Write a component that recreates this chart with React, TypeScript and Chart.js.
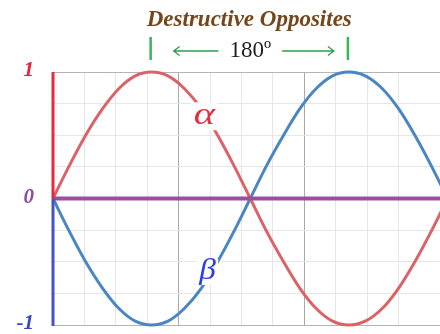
import React, { useEffect, useRef } from "react";
import { Chart, registerables } from "chart.js";

Chart.register(...registerables);

// Phase angle in radians for each sample
const ANGLE = [0, 0.26, 0.52, 0.79, 1.05, 1.31, 1.57, 1.83, 2.09, 2.36, 2.62, 2.88, 3.14, 3.4, 3.67, 3.93, 4.19, 4.45, 4.71, 4.97, 5.24, 5.5, 5.76, 6.02, 6.28];
// Wave α
const ALPHA = [0, 0.26, 0.5, 0.71, 0.87, 0.97, 1, 0.97, 0.87, 0.71, 0.5, 0.26, 0, -0.26, -0.5, -0.71, -0.87, -0.97, -1, -0.97, -0.87, -0.71, -0.5, -0.26, 0];
// Wave β, the opposite of α
const BETA = [0, -0.26, -0.5, -0.71, -0.87, -0.97, -1, -0.97, -0.87, -0.71, -0.5, -0.26, 0, 0.26, 0.5, 0.71, 0.87, 0.97, 1, 0.97, 0.87, 0.71, 0.5, 0.26, 0];

const Y_TICKS = [1, 0, -1];
const Y_TICK_LABELS = ["1", "0", "-1"];
const Y_TICK_COLORS = ["#e3243c", "#8a4f9c", "#3a48c4"];

const TITLE = "Destructive Opposites";
const PHASE_LABEL = "180º";
// Peaks of α and β that the bracket spans
const PHASE_FROM = 1.57;
const PHASE_TO = 4.71;

const ALPHA_LABEL = { x: 2.41, y: 0.65, text: "α" };
const BETA_LABEL = { x: 2.46, y: -0.58, text: "β" };

const SERIF = "'Liberation Serif', 'DejaVu Serif', serif";

const overlay = {
  id: "overlay",
  afterDatasetsDraw(chart: any) {
    const { ctx, chartArea, scales } = chart;
    const xs = scales.x;
    const ys = scales.y;
    const x0 = xs.getPixelForValue(0);
    const yTop = ys.getPixelForValue(1);
    const yZero = ys.getPixelForValue(0);
    const yBot = ys.getPixelForValue(-1);

    ctx.save();
    // zero line
    ctx.strokeStyle = "#9a4ea3";
    ctx.lineWidth = 4;
    ctx.beginPath();
    ctx.moveTo(x0, yZero);
    ctx.lineTo(chartArea.right + 2, yZero);
    ctx.stroke();

    // vertical axis: red above zero, blue below
    ctx.lineWidth = 3;
    ctx.strokeStyle = "#e8283c";
    ctx.beginPath();
    ctx.moveTo(x0, yTop);
    ctx.lineTo(x0, yZero);
    ctx.stroke();
    ctx.strokeStyle = "#4451c8";
    ctx.beginPath();
    ctx.moveTo(x0, yZero);
    ctx.lineTo(x0, yBot + 1);
    ctx.stroke();

    // wave names sitting on their curves
    const waveLabel = (l: any, color: string, size: number, sx: number) => {
      const px = xs.getPixelForValue(l.x);
      const py = ys.getPixelForValue(l.y);
      ctx.save();
      ctx.translate(px, py);
      ctx.scale(sx, 1);
      ctx.font = `italic ${size}px ${SERIF}`;
      ctx.textAlign = "center";
      ctx.textBaseline = "middle";
      const w = ctx.measureText(l.text).width;
      ctx.fillStyle = "#ffffff";
      ctx.fillRect(-w / 2 - 2, -size * 0.45, w + 4, size * 0.9);
      ctx.fillStyle = color;
      ctx.fillText(l.text, 0, 0);
      ctx.restore();
    };
    waveLabel(ALPHA_LABEL, "#e2303e", 31, 1.3);
    waveLabel(BETA_LABEL, "#2b3fe0", 29, 1.15);

    // y tick labels
    ctx.font = `bold italic 21px ${SERIF}`;
    ctx.textAlign = "right";
    ctx.textBaseline = "middle";
    Y_TICKS.forEach((v, i) => {
      ctx.fillStyle = Y_TICK_COLORS[i];
      ctx.fillText(Y_TICK_LABELS[i], x0 - 19, ys.getPixelForValue(v) - 1);
    });

    // title and phase bracket
    const bx1 = xs.getPixelForValue(PHASE_FROM) - 1;
    const bx2 = xs.getPixelForValue(PHASE_TO) - 1;
    const cx = (bx1 + bx2) / 2;
    ctx.font = `bold italic 23px ${SERIF}`;
    ctx.textAlign = "center";
    ctx.textBaseline = "alphabetic";
    ctx.fillStyle = "#74461a";
    ctx.fillText(TITLE, cx, 26);

    ctx.strokeStyle = "#3cb45a";
    ctx.lineWidth = 2.5;
    [bx1, bx2].forEach((bx) => {
      ctx.beginPath();
      ctx.moveTo(bx, 37);
      ctx.lineTo(bx, 60);
      ctx.stroke();
    });

    ctx.font = `23px ${SERIF}`;
    ctx.fillStyle = "#1e1e1e";
    ctx.textBaseline = "alphabetic";
    ctx.fillText(PHASE_LABEL, cx + 1, 57);
    const tw = ctx.measureText(PHASE_LABEL).width;
    const ay = 51;
    ctx.strokeStyle = "#2f9e48";
    ctx.lineWidth = 1.3;
    const lStart = bx1 + 23;
    const lEnd = cx - tw / 2 - 10;
    const rStart = cx + tw / 2 + 12;
    const rEnd = bx2 - 14;
    ctx.beginPath();
    ctx.moveTo(lStart, ay);
    ctx.lineTo(lEnd, ay);
    ctx.moveTo(lStart + 6, ay - 4.5);
    ctx.lineTo(lStart, ay);
    ctx.lineTo(lStart + 6, ay + 4.5);
    ctx.moveTo(rStart, ay);
    ctx.lineTo(rEnd, ay);
    ctx.moveTo(rEnd - 6, ay - 4.5);
    ctx.lineTo(rEnd, ay);
    ctx.lineTo(rEnd - 6, ay + 4.5);
    ctx.stroke();
    ctx.restore();
  },
};

export default function App() {
  const ref = useRef<HTMLCanvasElement>(null);

  useEffect(() => {
    if (!ref.current) return;
    const toPoints = (ys: number[]) => ANGLE.map((x, i) => ({ x, y: ys[i] }));
    const chart = new Chart(ref.current, {
      type: "line",
      data: {
        datasets: [
          {
            data: toPoints(ALPHA),
            borderColor: "#db6266",
            borderWidth: 3,
            pointRadius: 0,
            cubicInterpolationMode: "monotone",
            clip: false as any,
          },
          {
            data: toPoints(BETA),
            borderColor: "#4a86c2",
            borderWidth: 3,
            pointRadius: 0,
            cubicInterpolationMode: "monotone",
            clip: false as any,
          },
        ],
      },
      options: {
        responsive: false,
        animation: false,
        devicePixelRatio: 1,
        layout: { padding: { left: 53, top: 72, right: 0, bottom: 9 } },
        plugins: { legend: { display: false }, tooltip: { enabled: false } },
        scales: {
          x: {
            type: "linear",
            min: 0,
            max: 6.16,
            afterFit: (s: any) => {
              s.height = 0;
            },
            ticks: { display: false, stepSize: 0.5 },
            border: { display: false },
            grid: {
              drawTicks: false,
              lineWidth: 1,
              color: (c: any) =>
                Math.abs(c.tick.value % 2) < 1e-6 ? "#a8a8a8" : "#e6e6e6",
            },
          },
          y: {
            min: -1,
            max: 1,
            afterFit: (s: any) => {
              s.width = 0;
            },
            ticks: { display: false, stepSize: 0.25 },
            border: { display: false },
            grid: {
              drawTicks: false,
              color: (c: any) =>
                Math.abs(Math.abs(c.tick.value) - 1) < 1e-6 ? "#b4b4b4" : "#e6e6e6",
            },
          },
        },
      },
      plugins: [overlay],
    });
    return () => chart.destroy();
  }, []);

  return (
    <div style={{ position: "fixed", left: 0, top: 0, width: 440, height: 334, background: "#fff" }}>
      <canvas ref={ref} width={440} height={334} />
    </div>
  );
}
